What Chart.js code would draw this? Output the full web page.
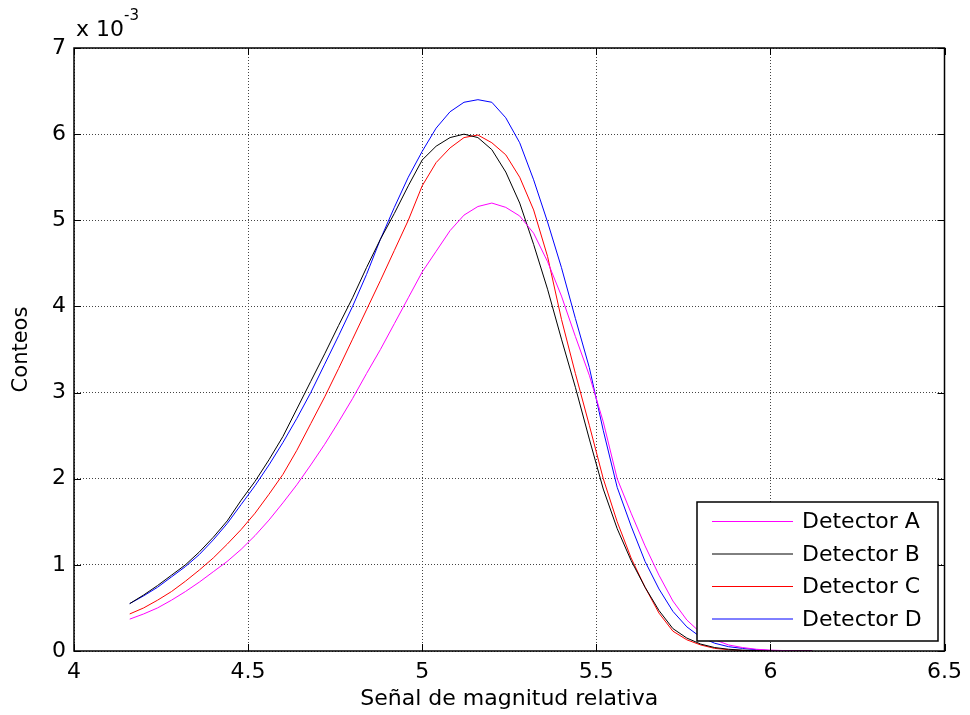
<!DOCTYPE html>
<html>
<head>
<meta charset="utf-8">
<script src="https://cdn.jsdelivr.net/npm/chart.js@4"></script>
<style>
html,body{margin:0;padding:0;background:#fff;}
</style>
</head>
<body>
<canvas id="conteos_chart" width="970" height="715"></canvas>
<script>
// datos (eje y en unidades de 10^-3)
const xValues = [4.16,4.20,4.24,4.28,4.32,4.36,4.40,4.44,4.48,4.52,
                 4.56,4.60,4.64,4.68,4.72,4.76,4.80,4.84,4.88,4.92,
                 4.96,5.00,5.04,5.08,5.12,5.16,5.20,5.24,5.28,5.32,
                 5.36,5.40,5.44,5.48,5.52,5.56,5.60,5.64,5.68,5.72,
                 5.76,5.80,5.84,5.88,5.92,5.96,6.00,6.04,6.08,6.12];
const detA = [0.37,0.43,0.50,0.59,0.69,0.80,0.92,1.04,1.18,1.34,
              1.52,1.72,1.93,2.16,2.40,2.66,2.93,3.22,3.50,3.80,
              4.10,4.40,4.64,4.88,5.06,5.16,5.20,5.15,5.05,4.85,
              4.52,4.12,3.65,3.20,2.66,2.00,1.60,1.22,0.88,0.58,
              0.36,0.21,0.13,0.07,0.04,0.02,0.01,0.005,0,0];
const detB = [0.55,0.65,0.76,0.88,1.00,1.15,1.32,1.51,1.75,1.97,
              2.22,2.49,2.81,3.13,3.45,3.78,4.10,4.45,4.78,5.08,
              5.40,5.70,5.86,5.96,6.00,5.96,5.82,5.56,5.20,4.72,
              4.20,3.62,3.06,2.46,1.88,1.42,1.05,0.74,0.47,0.26,
              0.15,0.08,0.04,0.02,0.01,0.005,0,0,0,0];
const detC = [0.43,0.50,0.59,0.69,0.81,0.94,1.08,1.24,1.41,1.60,
              1.82,2.05,2.33,2.64,2.95,3.28,3.62,3.96,4.30,4.65,
              5.00,5.40,5.67,5.84,5.96,5.99,5.90,5.76,5.50,5.12,
              4.58,3.85,3.22,2.62,2.00,1.50,1.08,0.74,0.44,0.23,
              0.13,0.07,0.03,0.015,0.005,0,0,0,0,0];
const detD = [0.55,0.64,0.74,0.86,0.98,1.12,1.29,1.48,1.70,1.92,
              2.16,2.42,2.70,3.00,3.33,3.66,4.00,4.37,4.78,5.15,
              5.50,5.80,6.07,6.26,6.37,6.40,6.37,6.19,5.90,5.47,
              4.98,4.45,3.86,3.29,2.56,1.90,1.45,1.04,0.72,0.46,
              0.28,0.16,0.09,0.05,0.03,0.015,0.005,0,0,0];
const labels = ["Detector A","Detector B","Detector C","Detector D"];
const colors = ["#ff00ff","#000000","#ff0000","#0000ff"];
const xTicks = [4,4.5,5,5.5,6,6.5];
const yTicks = [0,1,2,3,4,5,6,7];

const FONT = '"DejaVu Sans", "Liberation Sans", Arial, sans-serif';

function toPoints(ys) {
    let pts = [];
    for (let i=0; i<xValues.length; i++) {
        pts.push({x:xValues[i], y:ys[i]});
    }
    return pts;
}

// marco, marcas interiores, exponente y leyenda
const framePlugin = {
    id:'frame',
    afterDraw:function(chart) {
        const ctx = chart.ctx;
        const a = chart.chartArea;
        const sx = chart.scales.x, sy = chart.scales.y;
        ctx.save();
        ctx.strokeStyle = '#000';
        ctx.lineWidth = 1;
        ctx.beginPath();
        for (let v of xTicks) {
            let px = Math.round(sx.getPixelForValue(v)) + 0.5;
            ctx.moveTo(px, a.bottom); ctx.lineTo(px, a.bottom-7);
            ctx.moveTo(px, a.top); ctx.lineTo(px, a.top+7);
        }
        for (let v of yTicks) {
            let py = Math.round(sy.getPixelForValue(v)) + 0.5;
            ctx.moveTo(a.left, py); ctx.lineTo(a.left+7, py);
            ctx.moveTo(a.right, py); ctx.lineTo(a.right-7, py);
        }
        ctx.stroke();
        ctx.lineWidth = 1.5;
        ctx.strokeRect(a.left, a.top, a.right-a.left, a.bottom-a.top);

        // x 10^-3
        ctx.fillStyle = '#000';
        ctx.textBaseline = 'alphabetic';
        ctx.textAlign = 'left';
        ctx.font = '22px ' + FONT;
        ctx.fillText('x 10', a.left+2, 36);
        ctx.font = '15px ' + FONT;
        ctx.fillText('-3', a.left+50, 20);

        // leyenda
        const lx = 697, ly = 502, lw = 241, lh = 139;
        ctx.fillStyle = '#fff';
        ctx.fillRect(lx, ly, lw, lh);
        ctx.lineWidth = 1.5;
        ctx.strokeStyle = '#000';
        ctx.strokeRect(lx, ly, lw, lh);
        const rows = [521.5, 554, 586.5, 619];
        ctx.font = '22px ' + FONT;
        ctx.textBaseline = 'middle';
        for (let i=0; i<labels.length; i++) {
            ctx.strokeStyle = colors[i];
            ctx.lineWidth = 1;
            ctx.beginPath();
            ctx.moveTo(712, rows[i]); ctx.lineTo(793, rows[i]);
            ctx.stroke();
            ctx.fillStyle = '#000';
            ctx.fillText(labels[i], 802, rows[i]+1);
        }
        ctx.restore();
    }
};

let datasets = [];
[detA, detB, detC, detD].forEach(function(ys, i) {
    datasets.push({
        label:labels[i],
        data:toPoints(ys),
        borderColor:colors[i],
        backgroundColor:colors[i],
        borderWidth:1,
        pointRadius:0,
        showLine:true,
        tension:0
    });
});

let chart = new Chart(document.getElementById('conteos_chart'), {
    type:'scatter',
    data:{datasets:datasets},
    plugins:[framePlugin],
    options:{
        responsive:false,
        animation:false,
        layout:{padding:{top:48, right:20, left:0, bottom:0}},
        plugins:{legend:{display:false}, tooltip:{enabled:false}},
        scales:{
            x:{
                type:'linear', min:4, max:6.5,
                afterBuildTicks:function(s){ s.ticks = xTicks.map(v=>({value:v})); },
                afterFit:function(s){ s.height = 64; },
                grid:{color:'#444', lineWidth:1, drawTicks:false, tickLength:0},
                border:{display:false, dash:[1,2]},
                ticks:{color:'#000', padding:8, font:{family:FONT, size:22},
                       callback:function(v){ return String(v); }},
                title:{display:true, text:'Señal de magnitud relativa', color:'#000',
                       font:{family:FONT, size:22}, padding:{top:3, bottom:3}}
            },
            y:{
                type:'linear', min:0, max:7,
                afterBuildTicks:function(s){ s.ticks = yTicks.map(v=>({value:v})); },
                afterFit:function(s){ s.width = 74; },
                grid:{color:'#444', lineWidth:1, drawTicks:false, tickLength:0},
                border:{display:false, dash:[1,2]},
                ticks:{color:'#000', padding:8, font:{family:FONT, size:22},
                       callback:function(v){ return String(v); }},
                title:{display:true, text:'Conteos', color:'#000',
                       font:{family:FONT, size:21}, padding:{top:9, bottom:0}}
            }
        }
    }
});
</script>
</body>
</html>
